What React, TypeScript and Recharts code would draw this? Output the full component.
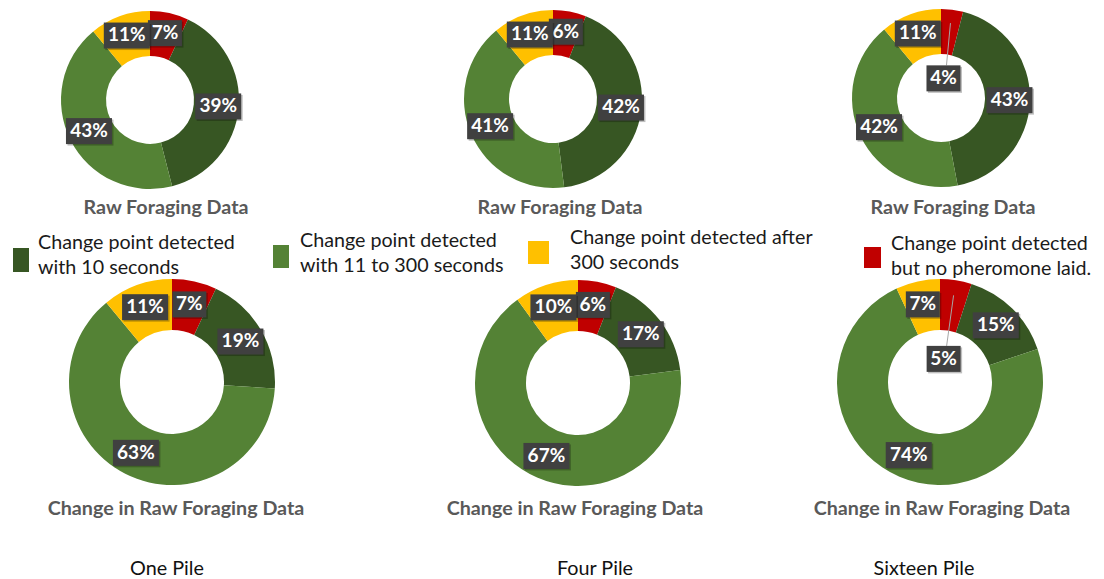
import React from "react";
import { PieChart, Pie, Cell } from "recharts";

// Category order as drawn clockwise from 12 o'clock
const categories = [
  "Change point detected but no pheromone laid.",
  "Change point detected with 10 seconds",
  "Change point detected with 11 to 300 seconds",
  "Change point detected after 300 seconds",
];
const colors = ["#C00000", "#375623", "#548235", "#FFC000"];

// Series values (percent)
const oneRaw = [7, 39, 43, 11];
const fourRaw = [6, 42, 41, 11];
const sixteenRaw = [4, 43, 42, 11];
const oneChange = [7, 19, 63, 11];
const fourChange = [6, 17, 67, 10];
const sixteenChange = [5, 15, 74, 7];

const pileLabels = ["One Pile", "Four Pile", "Sixteen Pile"];
const topTitle = "Raw Foraging Data";
const bottomTitle = "Change in Raw Foraging Data";

// Legend order: index into categories
const legendOrder = [1, 2, 3, 0];
const legendLines = [
  ["Change point detected", "with 10 seconds"],
  ["Change point detected", "with 11 to 300 seconds"],
  ["Change point detected after", "300 seconds"],
  ["Change point detected", "but no pheromone laid."],
];

const toData = (vals: number[]) =>
  vals.map((v, i) => ({ name: categories[i], value: v }));

const RAD = Math.PI / 180;
const FONT = "Lato, 'Open Sans', sans-serif";

const renderLabel = (p: any) => {
  const { cx, cy, midAngle, innerRadius, outerRadius, value } = p;
  const text = `${value}%`;
  const w = text.length <= 2 ? 34 : 46;
  const h = 26;
  const small = value <= 5;
  const r = small ? innerRadius * 0.45 : (innerRadius + outerRadius) / 2 + 2;
  const cos = Math.cos(-midAngle * RAD);
  const sin = Math.sin(-midAngle * RAD);
  const x = cx + r * cos;
  const y = cy + r * sin;
  const rl = innerRadius + 0.7 * (outerRadius - innerRadius);
  const lx = cx + rl * cos;
  const ly = cy + rl * sin;
  return (
    <g>
      {small && (
        <line x1={x + 3} y1={y - h / 2} x2={lx} y2={ly} stroke="#a6a6a6" strokeWidth={1} />
      )}
      <rect x={x - w / 2 + 1.5} y={y - h / 2 + 1.5} width={w} height={h} fill="rgba(0,0,0,0.25)" />
      <rect x={x - w / 2} y={y - h / 2} width={w} height={h} fill="#404040" />
      <text
        x={x}
        y={y + 1}
        fill="#ffffff"
        textAnchor="middle"
        dominantBaseline="middle"
        fontFamily={FONT}
        fontWeight={700}
        fontSize={19}
      >
        {text}
      </text>
    </g>
  );
};

const pies = [
  { data: toData(oneRaw), cx: 150, cy: 100, ir: 44, or: 89 },
  { data: toData(fourRaw), cx: 553, cy: 99, ir: 44, or: 89 },
  { data: toData(sixteenRaw), cx: 941, cy: 98, ir: 44, or: 89 },
  { data: toData(oneChange), cx: 172, cy: 382, ir: 52, or: 103 },
  { data: toData(fourChange), cx: 578, cy: 383, ir: 52, or: 103 },
  { data: toData(sixteenChange), cx: 940, cy: 382, ir: 52, or: 103 },
];

const topTitleX = [166, 560, 953];
const bottomTitleX = [176, 575, 942];
const pileX = [167, 595, 924];

const legendPos = [
  { mx: 13, my: 248, mw: 16, mh: 24, tx: 38, ty: 229 },
  { mx: 273, my: 245, mw: 16, mh: 23, tx: 300, ty: 227 },
  { mx: 528, my: 241, mw: 21, mh: 23, tx: 570, ty: 224 },
  { mx: 864, my: 247, mw: 17, mh: 21, tx: 891, ty: 230 },
];

const centered = (x: number, y: number, extra: React.CSSProperties): React.CSSProperties => ({
  position: "absolute",
  left: x,
  top: y,
  transform: "translate(-50%, -50%)",
  whiteSpace: "nowrap",
  fontFamily: FONT,
  lineHeight: 1,
  ...extra,
});

export default function App() {
  return (
    <div
      style={{
        position: "absolute",
        left: 0,
        top: 0,
        width: 1104,
        height: 579,
        background: "#ffffff",
        overflow: "hidden",
        fontFamily: FONT,
      }}
    >
      <PieChart width={1104} height={579} margin={{ top: 0, right: 0, bottom: 0, left: 0 }}>
        {pies.map((p, k) => (
          <Pie
            key={k}
            data={p.data}
            dataKey="value"
            nameKey="name"
            cx={p.cx}
            cy={p.cy}
            innerRadius={p.ir}
            outerRadius={p.or}
            startAngle={90}
            endAngle={-270}
            stroke="none"
            isAnimationActive={false}
            label={renderLabel}
            labelLine={false}
          >
            {p.data.map((d, i) => (
              <Cell key={i} fill={colors[i]} />
            ))}
          </Pie>
        ))}
      </PieChart>

      {topTitleX.map((x, i) => (
        <div key={"tt" + i} style={centered(x, 207, { fontSize: 19.7, fontWeight: 700, color: "#595959" })}>
          {topTitle}
        </div>
      ))}
      {bottomTitleX.map((x, i) => (
        <div key={"bt" + i} style={centered(x, 508, { fontSize: 19.7, fontWeight: 700, color: "#595959" })}>
          {bottomTitle}
        </div>
      ))}
      {pileX.map((x, i) => (
        <div key={"pl" + i} style={centered(x, 568, { fontSize: 19.8, color: "#111111" })}>
          {pileLabels[i]}
        </div>
      ))}

      {legendOrder.map((ci, i) => {
        const lp = legendPos[i];
        return (
          <React.Fragment key={"lg" + i}>
            <div
              style={{
                position: "absolute",
                left: lp.mx,
                top: lp.my,
                width: lp.mw,
                height: lp.mh,
                background: colors[ci],
              }}
            />
            <div
              style={{
                position: "absolute",
                left: lp.tx,
                top: lp.ty,
                fontFamily: FONT,
                fontSize: 19.7,
                lineHeight: "25px",
                color: "#1a1a1a",
                whiteSpace: "nowrap",
              }}
            >
              {legendLines[i].map((t, j) => (
                <div key={j}>{t}</div>
              ))}
            </div>
          </React.Fragment>
        );
      })}
    </div>
  );
}
